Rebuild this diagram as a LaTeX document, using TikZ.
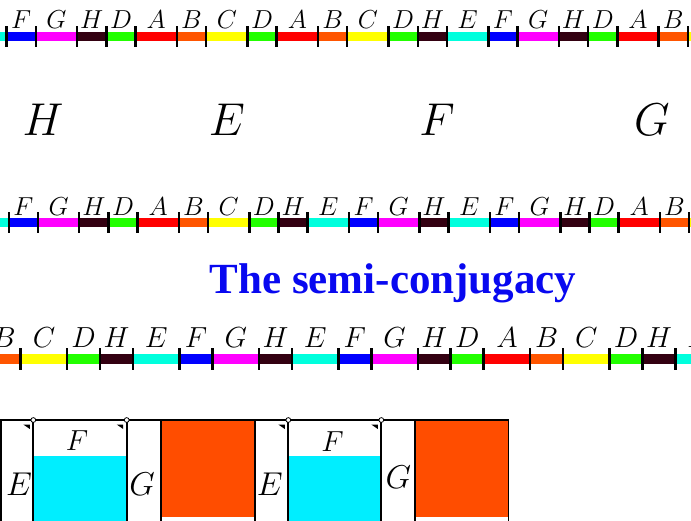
\RequirePackage{fix-cm}
\documentclass[tikz,border=0pt]{standalone}
\usepackage{fontspec}
\newfontfamily\titlefont{Liberation Serif}
\definecolor{colA}{RGB}{255,0,0}
\definecolor{colB}{RGB}{255,85,0}
\definecolor{colC}{RGB}{255,255,0}
\definecolor{colD}{RGB}{34,255,0}
\definecolor{colE}{RGB}{0,255,221}
\definecolor{colF}{RGB}{0,0,255}
\definecolor{colG}{RGB}{255,0,255}
\definecolor{colH}{RGB}{51,0,17}
\definecolor{boxcyan}{RGB}{0,238,255}
\definecolor{boxorange}{RGB}{255,77,0}
\definecolor{titleblue}{RGB}{8,8,240}
\def\lenA{1.41421}\def\lenB{1}\def\lenC{1.41421}\def\lenD{1}
\def\lenE{1.41421}\def\lenF{1}\def\lenG{1.41421}\def\lenH{1}
\tikzset{
  tickmark/.style={line width=2.5pt, black},
  rowlabel/.style={anchor=base, inner sep=0pt},
  boxline/.style={line width=1.8pt, black},
  joint/.style={draw=black, fill=white, line width=0.8pt},
  cornermark/.style={fill=black},
  biglabel/.style={anchor=base, inner sep=0pt, font=\fontsize{46}{46}\selectfont},
  boxlabel/.style={anchor=base, inner sep=0pt},
}
% #1 name prefix, #2 start x, #3 short length, #4 bar top, #5 bar bottom,
% #6 label baseline, #7 font size, #8 letter list
\newcommand\drawrow[8]{%
  \xdef\curx{#2}%
  \foreach \L [count=\i] in {#8} {%
    \pgfmathsetmacro\w{#3*\csname len\L\endcsname}%
    \pgfmathsetmacro\nx{\curx+\w}%
    \pgfmathsetmacro\mx{\curx+\w/2}%
    \fill[col\L] (\curx,#4) rectangle (\nx,#5);
    \node[rowlabel, font=\fontsize{#7}{#7}\selectfont] (#1\i) at (\mx,#6) {$\L$};
    \xdef\curx{\nx}%
  }%
  \xdef\curx{#2}%
  \foreach \L in {#8} {%
    \pgfmathsetmacro\w{#3*\csname len\L\endcsname}%
    \draw[tickmark] (\curx,#4-6) -- (\curx,#5+6);
    \pgfmathsetmacro\nx{\curx+\w}%
    \xdef\curx{\nx}%
  }%
  \draw[tickmark] (\curx,#4-6) -- (\curx,#5+6);
}
\begin{document}
\begin{tikzpicture}[x=1pt,y=-1pt]
\useasboundingbox (0,0) rectangle (691,520);
\clip (0,0) rectangle (691,520);
% row 1 (edge pieces without visible labels)
\fill[colE] (0,32) rectangle (6.6,40.5);
\fill[colC] (687.9,32) rectangle (691,40.5);
\drawrow{ra}{6.6}{29.22}{32}{40.5}{28.3}{26}{F,G,H,D,A,B,C,D,A,B,C,D,H,E,F,G,H,D,A,B}
% big letters
\node[biglabel] (bH) at (43,135) {$H$};
\node[biglabel] (bE) at (227,135) {$E$};
\node[biglabel] (bF) at (437,135) {$F$};
\node[biglabel] (bG) at (652,135) {$G$};
% row 2
\fill[colE] (0,218.3) rectangle (8.8,227.3);
\fill[colC] (689.2,218.3) rectangle (691,227.3);
\drawrow{rb}{8.8}{29.18}{218.3}{227.3}{215.2}{26}{F,G,H,D,A,B,C,D,H,E,F,G,H,E,F,G,H,D,A,B}
% title
\node[anchor=base, inner sep=0pt, text=titleblue, font=\titlefont\bfseries\fontsize{43}{43}\selectfont] (title) at (393,293) {The semi-conjugacy};
% row 3
\drawrow{rc}{-12.2}{32.9}{354.3}{364.3}{347.5}{29}{B,C,D,H,E,F,G,H,E,F,G,H,D,A,B,C,D,H,E}
% bottom boxes
\fill[boxcyan] (33.3,456) rectangle (126.7,521);
\fill[boxcyan] (288.3,456) rectangle (381.3,521);
\fill[boxorange] (161,420) rectangle (255,516.7);
\fill[boxorange] (415,420) rectangle (508.5,516.7);
\draw[boxline] (0,420) -- (508.5,420);
\foreach \x in {1,33.3,126.7,161,255,288.3,381.3,415,508.5} {
  \draw[boxline] (\x,420) -- (\x,521);
}
\foreach \x in {33.3,126.7,288.3,381.3} {
  \fill[cornermark] (\x-10,424.5) -- (\x-3.5,424.5) -- (\x-3.5,429) -- cycle;
  \draw[joint] (\x,420) circle (2.4pt);
}
\node[boxlabel, font=\fontsize{33}{33}\selectfont] (e1) at (19,495.5) {$E$};
\node[boxlabel, font=\fontsize{29}{29}\selectfont] (f1) at (77,450) {$F$};
\node[boxlabel, font=\fontsize{33}{33}\selectfont] (g1) at (142,495) {$G$};
\node[boxlabel, font=\fontsize{33}{33}\selectfont] (e2) at (269.7,495) {$E$};
\node[boxlabel, font=\fontsize{29}{29}\selectfont] (f2) at (332.5,451) {$F$};
\node[boxlabel, font=\fontsize{33}{33}\selectfont] (g2) at (398.3,488) {$G$};
\end{tikzpicture}
\end{document}
